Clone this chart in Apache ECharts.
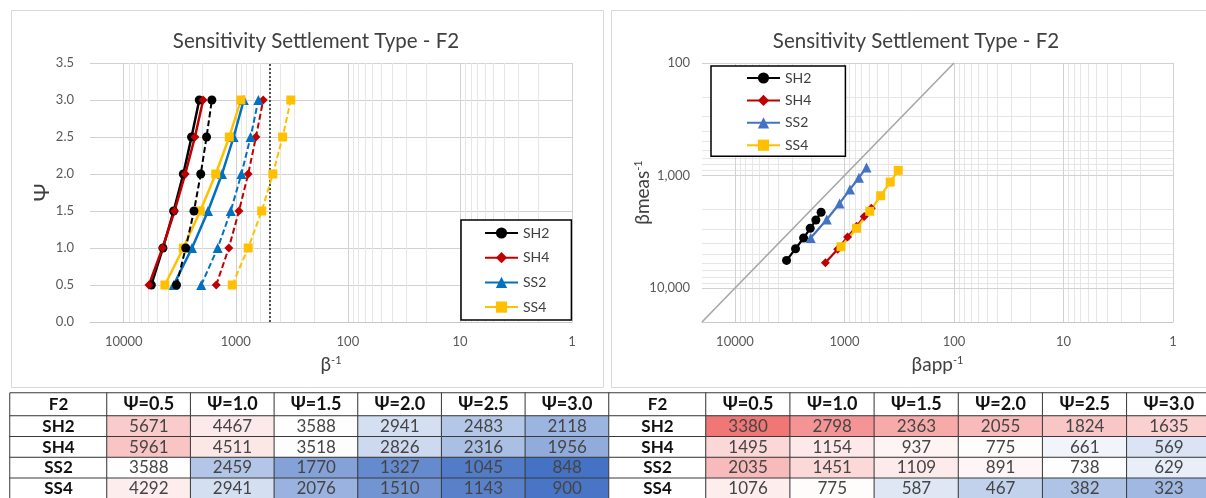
<!DOCTYPE html>
<html>
<head>
<meta charset="utf-8">
<script src="https://cdn.jsdelivr.net/npm/echarts@6/dist/echarts.min.js"></script>
<style>
  html, body { margin: 0; padding: 0; background: #ffffff; }
  #main { width: 1206px; height: 498px; }
</style>
</head>
<body>
<div id="main"></div>
<script>
// Ψ levels, column headings and row groups
const psiValues = [0.5, 1.0, 1.5, 2.0, 2.5, 3.0];
const psiLabels = ['Ψ=0.5', 'Ψ=1.0', 'Ψ=1.5', 'Ψ=2.0', 'Ψ=2.5', 'Ψ=3.0'];
const groups = ['SH2', 'SH4', 'SS2', 'SS4'];
const tableTitle = 'F2';

// β⁻¹ measured (left table, solid lines on the left chart, y values on the right chart)
const measSH2 = [5671, 4467, 3588, 2941, 2483, 2118];
const measSH4 = [5961, 4511, 3518, 2826, 2316, 1956];
const measSS2 = [3588, 2459, 1770, 1327, 1045, 848];
const measSS4 = [4292, 2941, 2076, 1510, 1143, 900];

// β⁻¹ apparent (right table, dashed lines on the left chart, x values on the right chart)
const appSH2 = [3380, 2798, 2363, 2055, 1824, 1635];
const appSH4 = [1495, 1154, 937, 775, 661, 569];
const appSS2 = [2035, 1451, 1109, 891, 738, 629];
const appSS4 = [1076, 775, 587, 467, 382, 323];

// reference values
const limitBeta = 500;          // dotted vertical limit
const unityEnds = [20000, 100]; // 1:1 line end points

const meas = { SH2: measSH2, SH4: measSH4, SS2: measSS2, SS4: measSS4 };
const app = { SH2: appSH2, SH4: appSH4, SS2: appSS2, SS4: appSS4 };

const FONT = 'Lato, "Open Sans", "DejaVu Sans", sans-serif';
const MAJOR = '#D2D2D2';
const MINOR = '#E6E6E6';
const TITLE = 'Sensitivity Settlement Type - F2';

const look = {
  SH2: { color: '#000000', colorR: '#000000', symbol: 'circle', size: 9 },
  SH4: { color: '#C00000', colorR: '#C00000', symbol: 'diamond', size: 9 },
  SS2: { color: '#0070C0', colorR: '#4472C4', symbol: 'triangle', size: 10 },
  SS4: { color: '#FFC000', colorR: '#FFC000', symbol: 'rect', size: 9 }
};

// colour scales for the two tables: [value, colour] stops, low → high
const measStops = [[848, '#4472C4'], [3550, '#FFFFFF'], [5961, '#F8C4C4']];
const appStops = [[323, '#A0B8E2'], [720, '#FFFFFF'], [3380, '#F17676']];

function hexRgb(h) { return [1, 3, 5].map(i => parseInt(h.slice(i, i + 2), 16)); }
function scaleColor(v, stops) {
  let a = stops[0], b = stops[1];
  if (v > stops[1][0]) { a = stops[1]; b = stops[2]; }
  const t = Math.max(0, Math.min(1, (v - a[0]) / (b[0] - a[0])));
  const ca = hexRgb(a[1]), cb = hexRgb(b[1]);
  const c = ca.map((x, i) => Math.round(x + (cb[i] - x) * t));
  return 'rgb(' + c.join(',') + ')';
}

function isDecade(v) { const l = Math.log10(v); return Math.abs(l - Math.round(l)) < 1e-6; }
function minorBetween(from, to) {
  const out = [];
  for (let d = from; d < to; d *= 10) for (let k = 2; k <= 9; k++) out.push(d * k);
  return out;
}
const gridLine = (axis, v, color) => ({ [axis]: v, lineStyle: { color, width: 1, type: 'solid' } });

const decadesX = [1, 10, 100, 1000, 10000];
const decadesY = [100, 1000, 10000];

const labelStyle = { color: '#595959', fontSize: 13, fontFamily: FONT };
const nameRich = {
  b: { fontSize: 19, fontFamily: FONT, color: '#404040', verticalAlign: 'bottom' },
  s: { fontSize: 11, fontFamily: FONT, color: '#404040', verticalAlign: 'top' }
};

function logX(gridIndex, name) {
  return {
    type: 'log', gridIndex, logBase: 10, min: 1, max: 20000, inverse: true,
    axisLine: { show: true, onZero: false, lineStyle: { color: '#C8C8C8', width: 1 } },
    axisTick: { show: false }, splitLine: { show: false },
    axisLabel: Object.assign({ margin: 13, formatter: v => isDecade(v) ? String(Math.round(v)) : '' }, labelStyle),
    name, nameLocation: 'middle', nameGap: 33, nameMoveOverlap: false,
    nameTextStyle: { rich: nameRich }
  };
}

// ---------- chart series ----------
const series = [];

groups.forEach((g, gi) => {
  const s = {
    name: g, type: 'line', xAxisIndex: 0, yAxisIndex: 0,
    data: meas[g].map((v, i) => [v, psiValues[i]]),
    symbol: look[g].symbol, symbolSize: look[g].size,
    itemStyle: { color: look[g].color },
    lineStyle: { color: look[g].color, width: 2.5 },
    z: 3
  };
  if (gi === 0) {
    s.markLine = {
      silent: true, symbol: ['none', 'none'], label: { show: false }, z: 1, animation: false,
      data: [
        ...minorBetween(1, 10000).map(v => gridLine('xAxis', v, MINOR)),
        ...decadesX.map(v => gridLine('xAxis', v, MAJOR)),
        { xAxis: limitBeta, lineStyle: { color: '#1a1a1a', width: 1.5, type: [2, 2] } }
      ]
    };
  }
  series.push(s);
});

groups.forEach(g => {
  series.push({
    name: g + ' app', type: 'line', xAxisIndex: 0, yAxisIndex: 0,
    data: app[g].map((v, i) => [v, psiValues[i]]),
    symbol: look[g].symbol, symbolSize: look[g].size,
    itemStyle: { color: look[g].color },
    lineStyle: { color: look[g].color, width: 2, type: [6, 3] },
    z: 3
  });
});

// 1:1 line with the right chart's gridlines
series.push({
  name: 'unity', type: 'line', xAxisIndex: 1, yAxisIndex: 1,
  data: unityEnds.map(v => [v, v]), symbol: 'none',
  lineStyle: { color: '#A6A6A6', width: 1.6 }, z: 2, silent: true,
  markLine: {
    silent: true, symbol: ['none', 'none'], label: { show: false }, z: 1, animation: false,
    data: [
      ...minorBetween(1, 10000).map(v => gridLine('xAxis', v, MINOR)),
      ...minorBetween(100, 10000).map(v => gridLine('yAxis', v, MINOR)),
      ...decadesX.map(v => gridLine('xAxis', v, MAJOR)),
      ...decadesY.map(v => gridLine('yAxis', v, MAJOR))
    ]
  }
});

groups.forEach(g => {
  series.push({
    name: g + ' meas/app', type: 'line', xAxisIndex: 1, yAxisIndex: 1,
    data: app[g].map((v, i) => [v, meas[g][i]]),
    symbol: look[g].symbol, symbolSize: look[g].size,
    itemStyle: { color: look[g].colorR },
    lineStyle: { color: look[g].colorR, width: 2.2 },
    z: 3
  });
});

// ---------- tables as heatmap cells ----------
const grids = [
  { left: 90, top: 63, width: 482, height: 259, outerBoundsMode: 'none' },
  { left: 702, top: 63, width: 471, height: 259, outerBoundsMode: 'none' }
];
const xAxes = [
  logX(0, '{b|β}{s|-1}'),
  logX(1, '{b|βapp}{s|-1}')
];
const yAxes = [
  {
    type: 'value', gridIndex: 0, min: 0, max: 3.5, interval: 0.5,
    axisLine: { show: false }, axisTick: { show: false },
    splitLine: { show: true, lineStyle: { color: MAJOR, width: 1 } },
    axisLabel: Object.assign({ margin: 16, formatter: v => v.toFixed(1) }, labelStyle),
    name: 'Ψ', nameLocation: 'middle', nameGap: 37, nameRotate: 90, nameMoveOverlap: false,
    nameTextStyle: { fontSize: 22, fontFamily: FONT, color: '#404040' }
  },
  {
    type: 'log', gridIndex: 1, logBase: 10, min: 100, max: 20000, inverse: true,
    axisLine: { show: false }, axisTick: { show: false }, splitLine: { show: false },
    axisLabel: Object.assign({ margin: 12, formatter: v => isDecade(v) ? Math.round(v).toLocaleString('en-US') : '' }, labelStyle),
    name: '{b|βmeas}{s|-1}', nameLocation: 'middle', nameGap: 50, nameRotate: 90, nameMoveOverlap: false,
    nameTextStyle: { rich: nameRich }
  }
];

const tables = [
  { left: 10, labelW: 97, dataW: 502, values: meas, stops: measStops },
  { left: 609, labelW: 97, dataW: 505, values: app, stops: appStops }
];
const headTop = 393, headH = 23, bodyTop = 416, bodyH = 83;

const cellBorder = { borderColor: '#3a3a3a', borderWidth: 1 };
const headLabel = { show: true, fontFamily: FONT, fontSize: 18, fontWeight: 'bold', color: '#111111' };
const bodyLabel = { show: true, fontFamily: FONT, fontSize: 17, color: '#454545' };

function addCells(rect, xCats, yCats, data, label) {
  const gi = grids.length;
  grids.push(Object.assign({ outerBoundsMode: 'none' }, rect));
  xAxes.push({ type: 'category', gridIndex: gi, data: xCats, show: false });
  yAxes.push({ type: 'category', gridIndex: gi, data: yCats, show: false, inverse: true });
  series.push({
    type: 'heatmap', xAxisIndex: gi, yAxisIndex: gi, data, label,
    itemStyle: Object.assign({ color: '#ffffff' }, cellBorder),
    emphasis: { disabled: true }, silent: true, animation: false
  });
}

tables.forEach(t => {
  const dataLeft = t.left + t.labelW;
  addCells({ left: t.left, top: headTop, width: t.labelW, height: headH },
    [tableTitle], ['head'], [[0, 0, 0]],
    Object.assign({ formatter: () => tableTitle }, headLabel, { fontSize: 17 }));
  addCells({ left: dataLeft, top: headTop, width: t.dataW, height: headH },
    psiLabels, ['head'], psiLabels.map((s, i) => [i, 0, 0]),
    Object.assign({ formatter: p => psiLabels[p.value[0]] }, headLabel));
  addCells({ left: t.left, top: bodyTop, width: t.labelW, height: bodyH },
    [tableTitle], groups, groups.map((g, j) => [0, j, 0]),
    Object.assign({ formatter: p => groups[p.value[1]] }, headLabel, { fontSize: 17 }));
  const cells = [];
  groups.forEach((g, j) => t.values[g].forEach((v, i) => {
    cells.push({ value: [i, j, v], itemStyle: { color: scaleColor(v, t.stops) } });
  }));
  addCells({ left: dataLeft, top: bodyTop, width: t.dataW, height: bodyH },
    psiLabels, groups, cells,
    Object.assign({ formatter: p => String(p.value[2]) }, bodyLabel));
});

const legendBase = {
  orient: 'vertical', selectedMode: false, backgroundColor: '#ffffff',
  borderColor: '#000000', borderWidth: 1.5, itemHeight: 14,
  textStyle: { fontFamily: FONT, fontSize: 14, color: '#404040' }
};

const titleStyle = { fontFamily: FONT, fontSize: 20.5, fontWeight: 'normal', color: '#404040' };

const option = {
  animation: false,
  backgroundColor: '#ffffff',
  title: [
    { text: TITLE, left: 311, top: 26, textAlign: 'center', textStyle: titleStyle },
    { text: TITLE, left: 911, top: 26, textAlign: 'center', textStyle: titleStyle }
  ],
  legend: [
    Object.assign({}, legendBase, {
      data: groups, left: 461, top: 220, itemWidth: 33, itemGap: 10.7, padding: [6, 22, 6, 23]
    }),
    Object.assign({}, legendBase, {
      data: groups.map(g => g + ' meas/app'), formatter: n => n.split(' ')[0],
      left: 711, top: 66, itemWidth: 33, itemGap: 8.4, padding: [5, 34, 4, 35]
    })
  ],
  grid: grids,
  xAxis: xAxes,
  yAxis: yAxes,
  series,
  graphic: [
    { type: 'rect', silent: true, z: -10, shape: { x: 11.5, y: 10.5, width: 592, height: 377 },
      style: { fill: 'none', stroke: '#D9D9D9', lineWidth: 1 } },
    { type: 'rect', silent: true, z: -10, shape: { x: 611.5, y: 10.5, width: 600, height: 377 },
      style: { fill: 'none', stroke: '#D9D9D9', lineWidth: 1 } }
  ]
};

const chart = echarts.init(document.getElementById('main'), null, { renderer: 'canvas' });
chart.setOption(option);
</script>
</body>
</html>
